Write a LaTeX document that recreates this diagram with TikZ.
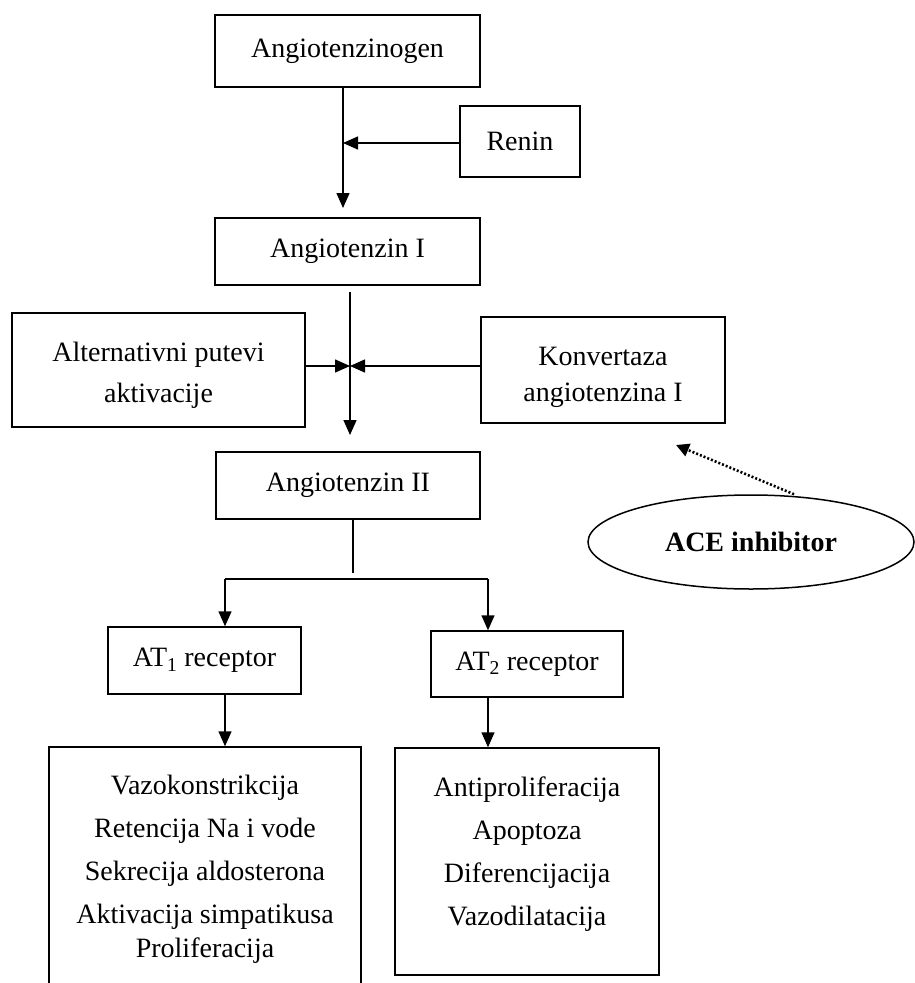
\documentclass[tikz,border=0pt]{standalone}
\usepackage{fontspec}
\setmainfont{Liberation Serif}
\usetikzlibrary{arrows.meta,shapes.geometric}
\begin{document}
\begin{tikzpicture}[x=1pt,y=-1pt,
  box/.style={draw,line width=1.5pt,inner sep=0pt,align=center,font=\fontsize{28}{41}\selectfont},
  plain/.style={inner sep=0pt,align=center,font=\fontsize{28}{43}\selectfont},
  ln/.style={line width=1.5pt},
  arr/.style={line width=1.5pt,-{Triangle[length=15pt,width=13pt]}},
  dotarr/.style={line width=2.6pt,dash pattern=on 2pt off 2pt,-{Triangle[length=13pt,width=13pt]}}
]
\useasboundingbox (0,0) rectangle (914,983);

% boxes
\node[box,minimum width=265pt,minimum height=72pt] (ang0) at (347.5,51) {Angiotenzinogen};
\node[box,minimum width=120pt,minimum height=71pt] (renin) at (520,141.5) {Renin};
\node[box,minimum width=265pt,minimum height=67pt] (ang1) at (347.5,251.5) {Angiotenzin I};
\node[box,minimum width=293pt,minimum height=114pt] (alt) at (158.5,370) {Alternativni putevi\rule{0pt}{29pt}\\aktivacije};
\node[box,minimum width=244pt,minimum height=106pt,font=\fontsize{28}{36}\selectfont] (konv) at (603,370) {Konvertaza\rule{0pt}{33pt}\\angiotenzina I};
\node[box,minimum width=264pt,minimum height=67pt] (ang2) at (348,485.5) {Angiotenzin II};
\node[draw,line width=1.5pt,ellipse,inner sep=0pt,minimum width=326pt,minimum height=94pt,
      font=\fontsize{28}{33}\selectfont\bfseries] (ace) at (751,542) {ACE inhibitor};
\node[box,minimum width=193pt,minimum height=67pt] (at1) at (204.5,660.5) {AT\textsubscript{1} receptor};
\node[box,minimum width=192pt,minimum height=66pt] (at2) at (527,664) {AT\textsubscript{2} receptor};
\node[draw,line width=1.5pt,minimum width=312pt,minimum height=260pt,inner sep=0pt] (eff1) at (205,877) {};
\node[draw,line width=1.5pt,minimum width=264pt,minimum height=227pt,inner sep=0pt] (eff2) at (527,861.5) {};
\node[plain] (eff1t) at (205,869) {Vazokonstrikcija\\Retencija Na i vode\\Sekrecija aldosterona\\Aktivacija simpatikusa\\[-9pt]Proliferacija};
\node[plain] (eff2t) at (527,854) {Antiproliferacija\\Apoptoza\\Diferencijacija\\Vazodilatacija};

% connectors
\coordinate (t1) at (343,208);
\coordinate (r1) at (343,143);
\draw[arr] (ang0.south -| t1) -- (t1);
\draw[arr] (renin.west |- r1) -- (r1);

\coordinate (s2) at (350,292);
\coordinate (t2) at (350,435);
\coordinate (m) at (350,366);
\draw[arr] (s2) -- (t2);
\draw[arr] (alt.east |- m) -- (m);
\draw[arr] (konv.west |- m) -- (m);

\coordinate (tip) at (676,445);
\coordinate (tail) at (794,492);
\draw[dotarr] (ace.north -| tail) -- (tip);

\coordinate (s3) at (353,573);
\coordinate (hl) at (225,579);
\coordinate (hr) at (488,579);
\draw[ln] (ang2.south -| s3) -- (s3);
\draw[ln] (hl) -- (hr);
\draw[arr] (hl) -- (hl |- at1.north);
\draw[arr] (hr) -- (hr |- at2.north);
\draw[arr] (at1.south -| hl) -- (hl |- eff1.north);
\draw[arr] (at2.south -| hr) -- (hr |- eff2.north);
\end{tikzpicture}
\end{document}
